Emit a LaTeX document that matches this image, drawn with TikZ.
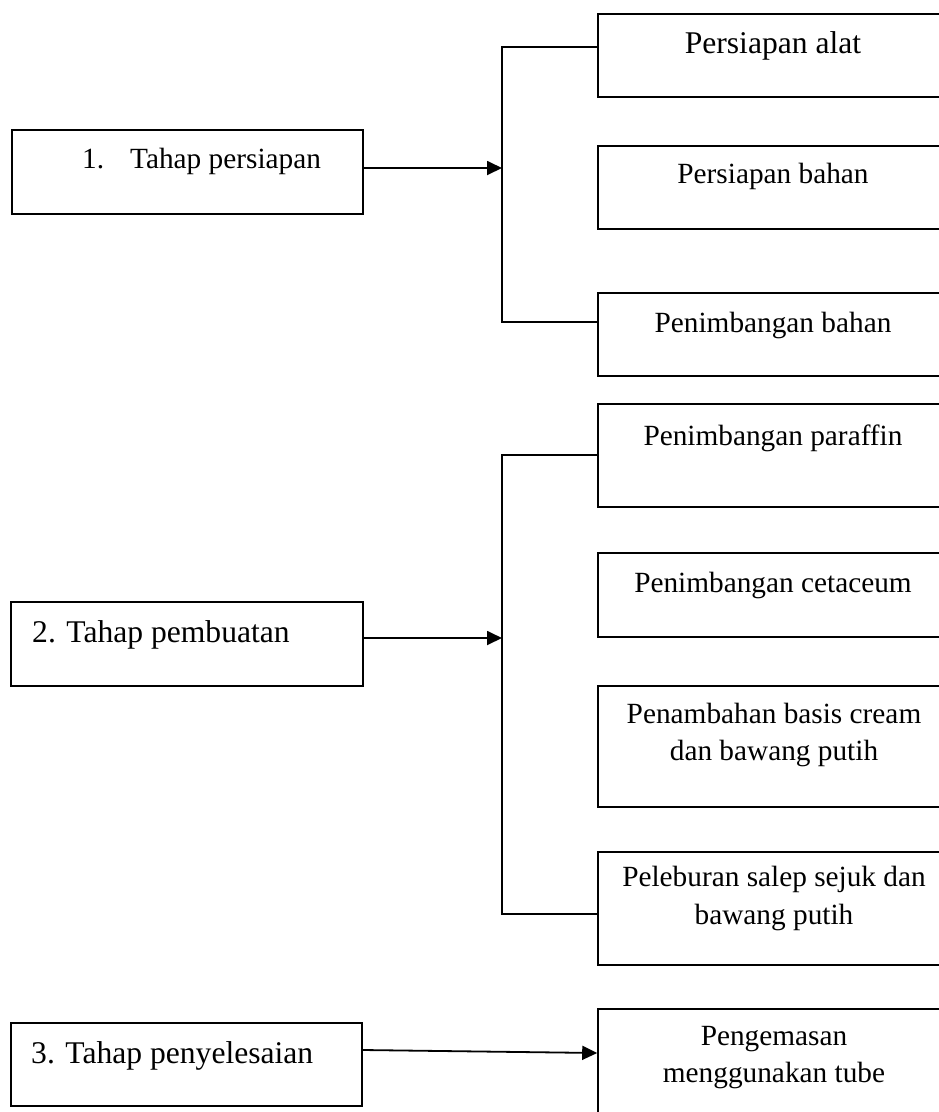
\documentclass[tikz,border=0pt]{standalone}
\usepackage{fontspec}
\setmainfont{Liberation Serif}
\usetikzlibrary{arrows.meta}
\newcommand{\smallf}{\fontsize{29.3}{37}\selectfont}
\newcommand{\largef}{\fontsize{31.6}{38}\selectfont}
\begin{document}
\begin{tikzpicture}[x=1pt,y=-1pt,
  boxst/.style={draw=black,line width=1.6pt,inner sep=0pt,minimum width=352pt},
  txt/.style={anchor=base,inner sep=0pt,font=\smallf},
  txtl/.style={anchor=base west,inner sep=0pt,font=\largef},
  conn/.style={draw=black,line width=1.3pt},
  arr/.style={draw=black,line width=1.8pt,-{Triangle[length=15pt,width=14pt]}}]
\useasboundingbox (0,0) rectangle (939,1112);
\clip (0,0) rectangle (939,1112);
% right boxes
\node[boxst,minimum height=83pt]  (r1) at (774,55.5) {};
\node[boxst,minimum height=83pt]  (r2) at (774,187.5) {};
\node[boxst,minimum height=83pt]  (r3) at (774,334.5) {};
\node[boxst,minimum height=103pt] (r4) at (774,455.5) {};
\node[boxst,minimum height=84pt]  (r5) at (774,595) {};
\node[boxst,minimum height=121pt] (r6) at (774,746.5) {};
\node[boxst,minimum height=113pt] (r7) at (774,908.5) {};
\node[boxst,minimum height=121pt] (r8) at (774,1069.5) {};
% left boxes
\node[boxst,minimum width=351pt,minimum height=84pt] (l1) at (187.5,172) {};
\node[boxst,minimum width=352pt,minimum height=84pt] (l2) at (187,644) {};
\node[boxst,minimum width=351pt,minimum height=83pt] (l3) at (186.5,1064.5) {};
% texts
\node[txt,font=\largef] (t1) at (773,53) {Persiapan alat};
\node[txt] (t2) at (773,183) {Persiapan bahan};
\node[txt] (t3) at (773,332) {Penimbangan bahan};
\node[txt] (t4) at (773,445) {Penimbangan paraffin};
\node[txt] (t5) at (773,592) {Penimbangan cetaceum};
\node[txt] (t6a) at (774,723) {Penambahan basis cream};
\node[txt] (t6b) at (774,760) {dan bawang putih};
\node[txt] (t7a) at (774,886) {Peleburan salep sejuk dan};
\node[txt] (t7b) at (774,924) {bawang putih};
\node[txt] (t8a) at (774,1045) {Pengemasan};
\node[txt] (t8b) at (774,1082) {menggunakan tube};
\node[txtl,font=\smallf] (s1n) at (82,168) {1.};
\node[txtl,font=\smallf] (s1) at (130,168) {Tahap persiapan};
\node[txtl] (s2) at (32,642) {2. Tahap pembuatan};
\node[txtl] (s3) at (31,1063) {3. Tahap penyelesaian};
% brackets
\coordinate (b1top) at (502,47);
\coordinate (b1bot) at (502,322);
\coordinate (b2top) at (502,455);
\coordinate (b2bot) at (502,914);
\draw[conn] (r1.west |- b1top) -- (b1top) -- (b1bot) -- (r3.west |- b1bot);
\draw[conn] (r4.west |- b2top) -- (b2top) -- (b2bot) -- (r7.west |- b2bot);
% arrows
\draw[arr] ([yshift=4pt]l1.east) -- ([yshift=4pt]l1.east -| b1top);
\draw[arr] ([yshift=6pt]l2.east) -- ([yshift=6pt]l2.east -| b2top);
\draw[arr] ([yshift=14.5pt]l3.east) -- ([yshift=16.5pt]r8.west);
\end{tikzpicture}
\end{document}
